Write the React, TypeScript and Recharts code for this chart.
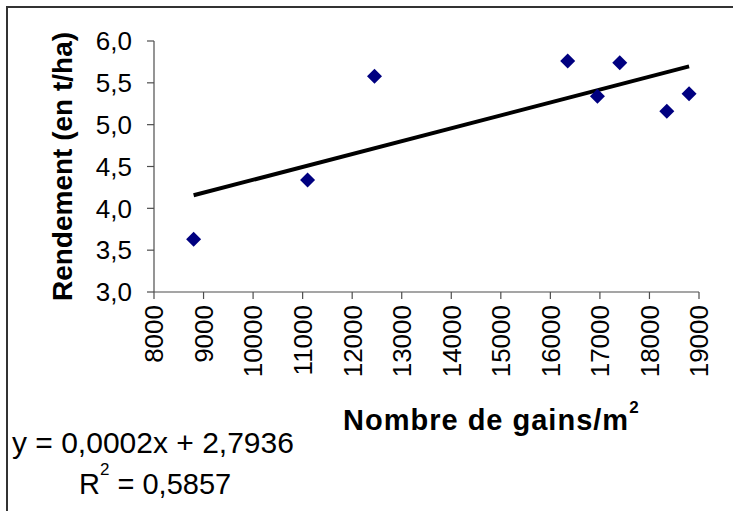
import React from "react"
import { ScatterChart, Scatter, XAxis, YAxis } from "recharts"

// grain count per m² vs yield (t/ha)
const grains = [8800, 11100, 12450, 16350, 16950, 17400, 18350, 18800]
const yields = [3.63, 4.34, 5.58, 5.76, 5.34, 5.74, 5.16, 5.37]

const xTicks = [8000, 9000, 10000, 11000, 12000, 13000, 14000, 15000, 16000, 17000, 18000, 19000]
const yTicks = [3, 3.5, 4, 4.5, 5, 5.5, 6]

const equationText = "y = 0,0002x + 2,7936"
const r2Text = "= 0,5857"

const points = grains.map((g, i) => ({ x: g, y: yields[i] }))

// least squares fit, drawn between the smallest and largest x
function linearFit(xs: number[], ys: number[]) {
  const n = xs.length
  const mx = xs.reduce((a, b) => a + b, 0) / n
  const my = ys.reduce((a, b) => a + b, 0) / n
  let sxy = 0
  let sxx = 0
  for (let i = 0; i < n; i++) {
    sxy += (xs[i] - mx) * (ys[i] - my)
    sxx += (xs[i] - mx) ** 2
  }
  const slope = sxy / sxx
  return { slope, intercept: my - slope * mx }
}

const fit = linearFit(grains, yields)
const xMin = Math.min(...grains)
const xMax = Math.max(...grains)
const trend = [
  { x: xMin, y: fit.intercept + fit.slope * xMin },
  { x: xMax, y: fit.intercept + fit.slope * xMax },
]

const FONT = "'Liberation Sans', Arial, sans-serif"
const AXIS = "#4d4d4d"

const Diamond = (props: any) => {
  const { cx, cy } = props
  if (cx == null || cy == null) return null
  const r = 7.5
  return (
    <path
      d={`M${cx},${cy - r}L${cx + r},${cy}L${cx},${cy + r}L${cx - r},${cy}Z`}
      fill="#000080"
    />
  )
}

const NoDot = () => <g />

const XTick = ({ x, y, payload }: any) => (
  <text
    x={x}
    y={y + 4}
    transform={`rotate(-90, ${x}, ${y + 4})`}
    textAnchor="end"
    dy="0.36em"
    fontFamily={FONT}
    fontSize={26}
    fill="#000"
  >
    {payload.value}
  </text>
)

const XTitle = ({ viewBox }: any) => {
  const vb = viewBox || { x: 154, y: 292 }
  return (
    <text
      x={vb.x + 189}
      y={vb.y + 138}
      fontFamily={FONT}
      fontSize={29}
      fontWeight="bold"
      fill="#000"
      letterSpacing={1}
    >
      Nombre de gains/m
      <tspan dy={-17} fontSize={17}>
        2
      </tspan>
    </text>
  )
}

const YTitle = ({ viewBox }: any) => {
  const vb = viewBox || { x: 0, y: 41, height: 251 }
  const cx = vb.x + 72
  const cy = vb.y + vb.height / 2
  return (
    <text
      x={cx}
      y={cy}
      transform={`rotate(-90, ${cx}, ${cy})`}
      textAnchor="middle"
      fontFamily={FONT}
      fontSize={28}
      fontWeight="bold"
      fill="#000"
    >
      Rendement (en t/ha)
    </text>
  )
}

export default function App() {
  return (
    <div
      style={{
        position: "absolute",
        left: 0,
        top: 0,
        width: 733,
        height: 511,
        background: "#fff",
      }}
    >
      <ScatterChart
        width={733}
        height={511}
        margin={{ top: 41, right: 34, bottom: 0, left: 0 }}
      >
        <XAxis
          type="number"
          dataKey="x"
          domain={[8000, 19000]}
          ticks={xTicks}
          interval={0}
          height={219}
          tickSize={7}
          tick={<XTick />}
          stroke={AXIS}
          axisLine={{ stroke: AXIS, strokeWidth: 1.2 }}
          tickLine={{ stroke: AXIS, strokeWidth: 1.2 }}
          label={<XTitle />}
        />
        <YAxis
          type="number"
          dataKey="y"
          domain={[3, 6]}
          ticks={yTicks}
          interval={0}
          width={154}
          tickSize={7}
          tickMargin={15}
          tickFormatter={(v: number) => v.toFixed(1).replace(".", ",")}
          tick={{ fontFamily: FONT, fontSize: 26, fill: "#000" }}
          stroke={AXIS}
          axisLine={{ stroke: AXIS, strokeWidth: 1.2 }}
          tickLine={{ stroke: AXIS, strokeWidth: 1.2 }}
          label={<YTitle />}
        />
        <Scatter
          data={trend}
          line={{ stroke: "#000", strokeWidth: 4 }}
          lineType="joint"
          shape={<NoDot />}
          isAnimationActive={false}
        />
        <Scatter
          data={points}
          shape={<Diamond />}
          isAnimationActive={false}
        />
      </ScatterChart>

      <svg
        width={733}
        height={511}
        style={{ position: "absolute", left: 0, top: 0, pointerEvents: "none" }}
      >
        <path d="M7,511V7H733" fill="none" stroke="#333" strokeWidth={2} />
        <text x={12} y={453} fontFamily={FONT} fontSize={30} fill="#000">
          {equationText}
        </text>
        <text x={79} y={494} fontFamily={FONT} fontSize={29} fill="#000">
          R
          <tspan dy={-19} fontSize={17}>
            2
          </tspan>
          <tspan dy={19}> {r2Text}</tspan>
        </text>
      </svg>
    </div>
  )
}
